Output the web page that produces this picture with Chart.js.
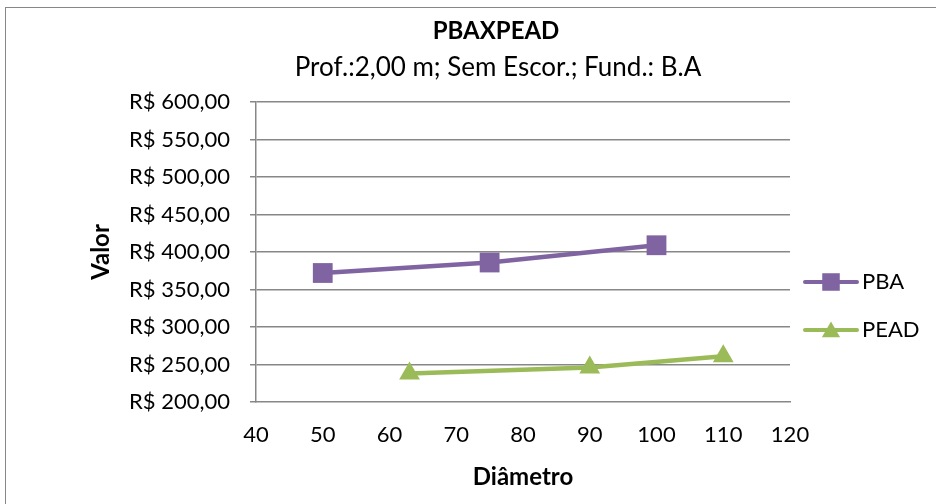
<!DOCTYPE html>
<html>
<head>
<meta charset="utf-8">
<script src="https://cdn.jsdelivr.net/npm/chart.js@4.4.0/dist/chart.umd.min.js"></script>
<style>
    body { margin: 0; background: #fff; }
    #wrap { position: relative; width: 936px; height: 504px; overflow: hidden; }
    #frame { position: absolute; left: 5px; top: 7px; width: 940px; height: 510px; border: 1px solid #878787; }
    canvas { position: absolute; left: 0; top: 0; }
</style>
</head>
<body>
<div id="wrap">
    <div id="frame"></div>
    <canvas id="grafico" width="936" height="504"></canvas>
</div>
<script>
const titulo = 'PBAXPEAD';
const subtitulo = 'Prof.:2,00 m; Sem Escor.; Fund.: B.A';

const series = ['PBA', 'PEAD'];
const pbaDiametro = [50, 75, 100];
const pbaValor = [372, 386, 409];
const peadDiametro = [63, 90, 110];
const peadValor = [238, 246, 261];

const fonte = 'Lato, "Open Sans", sans-serif';
const cinza = '#878787';

function pontos(xs, ys) {
    return xs.map((x, i) => ({ x: x, y: ys[i] }));
}

function moeda(v) {
    return 'R$ ' + v.toFixed(2).replace('.', ',');
}

// titulo e legenda desenhados a mao, como no Excel
const extras = {
    id: 'extras',
    afterDraw(chart) {
        const ctx = chart.ctx;
        ctx.save();
        ctx.fillStyle = '#000';
        ctx.textAlign = 'center';
        ctx.textBaseline = 'middle';
        ctx.font = 'bold 24px ' + fonte;
        ctx.fillText(titulo, 496, 31);
        ctx.font = '26px ' + fonte;
        ctx.fillText(subtitulo, 498, 68);

        chart.data.datasets.forEach((ds, i) => {
            const y = 282 + i * 48;
            ctx.strokeStyle = ds.borderColor;
            ctx.lineWidth = 4;
            ctx.lineCap = 'round';
            ctx.beginPath();
            ctx.moveTo(805, y);
            ctx.lineTo(857, y);
            ctx.stroke();
            ctx.fillStyle = ds.borderColor;
            Chart.helpers.drawPoint(ctx, {
                pointStyle: ds.pointStyle,
                radius: ds.pointStyle === 'rect' ? 12.4 : 10.5,
                rotation: 0,
                borderWidth: 0
            }, 831, ds.pointStyle === 'rect' ? y : y + 2);
            ctx.fillStyle = '#000';
            ctx.textAlign = 'left';
            ctx.font = '22px ' + fonte;
            ctx.fillText(ds.label, 862, y);
        });
        ctx.restore();
    }
};

new Chart(document.getElementById('grafico'), {
    type: 'scatter',
    data: {
        datasets: [
            {
                label: series[0],
                data: pontos(pbaDiametro, pbaValor),
                showLine: true,
                borderColor: '#8064a2',
                backgroundColor: '#8064a2',
                borderWidth: 4.5,
                pointStyle: 'rect',
                pointRadius: 14,
                pointBorderWidth: 0
            },
            {
                label: series[1],
                data: pontos(peadDiametro, peadValor),
                showLine: true,
                borderColor: '#9bbb59',
                backgroundColor: '#9bbb59',
                borderWidth: 4.5,
                pointStyle: 'triangle',
                pointRadius: 12,
                pointBorderWidth: 0
            }
        ]
    },
    options: {
        responsive: false,
        animation: false,
        layout: { padding: { left: 0, top: 102, right: 146, bottom: 0 } },
        plugins: {
            legend: { display: false },
            tooltip: { enabled: false }
        },
        scales: {
            x: {
                type: 'linear',
                min: 40,
                max: 120,
                afterFit(scale) { scale.height = 102; },
                ticks: {
                    stepSize: 10,
                    color: '#000',
                    padding: 20,
                    font: { family: fonte, size: 22 }
                },
                grid: { display: false, drawTicks: false },
                border: { display: true, color: cinza, width: 1.5 },
                title: {
                    display: true,
                    text: 'Diâmetro',
                    color: '#000',
                    font: { family: fonte, size: 24, weight: 'bold' },
                    padding: { top: 0, bottom: 12 }
                }
            },
            y: {
                min: 200,
                max: 600,
                afterFit(scale) { scale.width = 256; },
                ticks: {
                    stepSize: 25,
                    color: '#000',
                    padding: 20,
                    font: { family: fonte, size: 22 },
                    callback: v => (v % 50 === 0 ? moeda(v) : '')
                },
                grid: {
                    color: c => (c.tick && c.tick.value % 50 === 0 && c.tick.value > 200 ? cinza : 'rgba(0,0,0,0)'),
                    tickColor: cinza,
                    tickLength: 6,
                    lineWidth: 1.5
                },
                border: { display: true, color: cinza, width: 1.5 },
                title: {
                    display: true,
                    text: 'Valor',
                    color: '#000',
                    font: { family: fonte, size: 24, weight: 'bold' },
                    padding: { top: 87, bottom: 0 }
                }
            }
        }
    },
    plugins: [extras]
});
</script>
</body>
</html>
